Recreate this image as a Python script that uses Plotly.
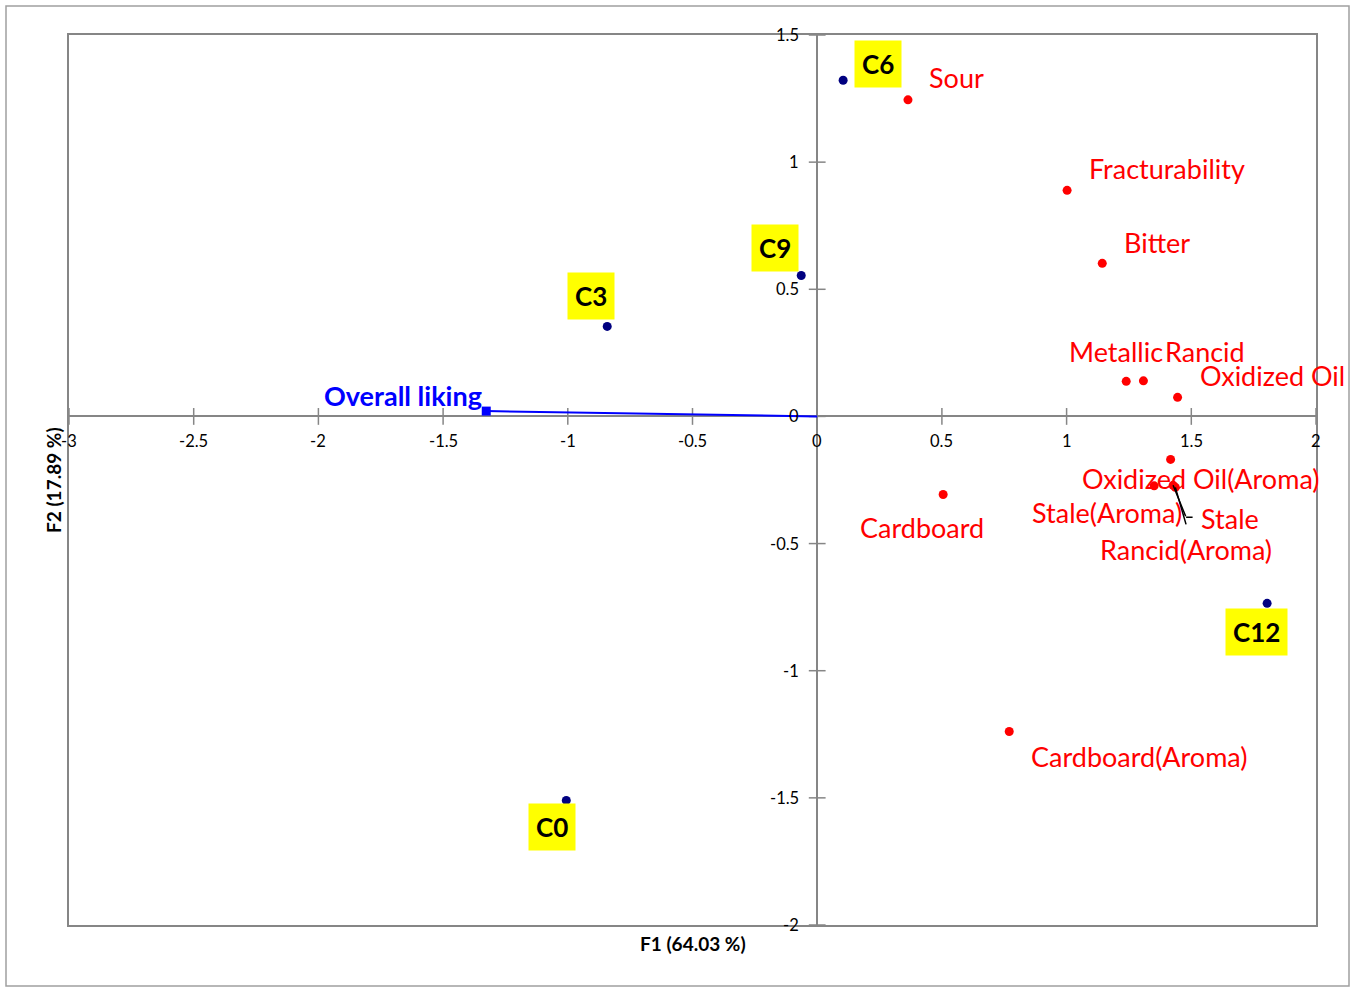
import plotly.graph_objects as go

# ---- data ----
obs_names = ["C0", "C3", "C6", "C9", "C12"]
obs_f1 = [-1.006, -0.842, 0.104, -0.064, 1.804]
obs_f2 = [-1.510, 0.354, 1.322, 0.554, -0.735]

var_names = ["Sour", "Fracturability", "Bitter", "Metallic", "Rancid", "Oxidized Oil",
             "Oxidized Oil(Aroma)", "Stale(Aroma)", "Stale", "Rancid(Aroma)",
             "Cardboard", "Cardboard(Aroma)"]
var_f1 = [0.364, 1.002, 1.143, 1.239, 1.308, 1.445, 1.417, 1.351, 1.427, 1.436, 0.505, 0.770]
var_f2 = [1.245, 0.889, 0.602, 0.138, 0.140, 0.075, -0.169, -0.273, -0.271, -0.279, -0.307, -1.239]

sup_name = "Overall liking"
sup_f1 = -1.327
sup_f2 = 0.021

x_ticks = [-3, -2.5, -2, -1.5, -1, -0.5, 0, 0.5, 1, 1.5, 2]
y_ticks = [-2, -1.5, -1, -0.5, 0, 0.5, 1, 1.5]

x_title = "F1 (64.03 %)"
y_title = "F2 (17.89 %)"

# ---- label placement (pixel offsets: xanchor, xshift, yshift) ----
var_label_pos = {
    "Sour": ("left", 19, 22),
    "Fracturability": ("left", 20, 22),
    "Bitter": ("left", 20, 21),
    "Metallic": ("right", 39, 30),
    "Rancid": ("left", 20, 29),
    "Oxidized Oil": ("left", 20, 22),
    "Oxidized Oil(Aroma)": ("center", 30, -19),
    "Stale(Aroma)": ("right", 30, -27),
    "Stale": ("left", 26, -33),
    "Rancid(Aroma)": ("center", 11, -62),
    "Cardboard": ("center", -21, -33),
    "Cardboard(Aroma)": ("left", 20, -25),
}
# leader lines: list of (xshift, yshift, ax, ay) segments in pixels relative to the point
var_leader = {
    "Stale": [(0, 0, 13, 32), (13, -32, 7, 0)],
    "Rancid(Aroma)": [(0, 0, 11, 38)],
}
obs_label_pos = {
    "C0": (-14, -27),
    "C3": (-16, 30),
    "C6": (35, 16),
    "C9": (-26, 28),
    "C12": (-11, -29),
}

FONT = "Lato"
GRAY = "#868686"
LABEL_SIZE = 27

fig = go.Figure()

# tick marks crossing the axes at the origin
fig.add_trace(go.Scatter(x=x_ticks, y=[0] * len(x_ticks), mode="markers",
                         marker=dict(symbol="line-ns", size=12, line=dict(color=GRAY, width=1.5)),
                         hoverinfo="skip"))
fig.add_trace(go.Scatter(x=[0] * len(y_ticks), y=y_ticks, mode="markers",
                         marker=dict(symbol="line-ew", size=12, line=dict(color=GRAY, width=1.5)),
                         hoverinfo="skip"))

# supplementary variable vector
fig.add_trace(go.Scatter(x=[0, sup_f1], y=[0, sup_f2], mode="lines",
                         line=dict(color="#0000FF", width=2), hoverinfo="skip"))
fig.add_trace(go.Scatter(x=[sup_f1], y=[sup_f2], mode="markers",
                         marker=dict(symbol="square", size=9, color="#0000FF"), hoverinfo="skip"))

# variables
fig.add_trace(go.Scatter(x=var_f1, y=var_f2, mode="markers",
                         marker=dict(size=9, color="#FF0000"), hoverinfo="skip"))
# observations
fig.add_trace(go.Scatter(x=obs_f1, y=obs_f2, mode="markers",
                         marker=dict(size=9, color="#000080"), hoverinfo="skip"))

ann = []
for xv in x_ticks:
    ann.append(dict(x=xv, y=0, text=str(xv), showarrow=False, yshift=-25,
                    font=dict(family=FONT, size=16.5, color="black")))
for yv in y_ticks:
    ann.append(dict(x=0, y=yv, text=str(yv), showarrow=False, xanchor="right", xshift=-16,
                    font=dict(family=FONT, size=16.5, color="black")))

for n, xv, yv in zip(var_names, var_f1, var_f2):
    xa, xs, ys = var_label_pos[n]
    ann.append(dict(x=xv, y=yv, text=n, showarrow=False, xanchor=xa, xshift=xs, yshift=ys,
                    font=dict(family=FONT, size=LABEL_SIZE, color="#FF0000")))
    for (sx, sy, axv, ayv) in var_leader.get(n, []):
        ann.append(dict(x=xv, y=yv, text=" ", showarrow=True, arrowhead=0, arrowwidth=1.5,
                        arrowcolor="black", xshift=sx, yshift=sy, ax=axv, ay=ayv,
                        borderpad=0, font=dict(size=1)))

for n, xv, yv in zip(obs_names, obs_f1, obs_f2):
    xs, ys = obs_label_pos[n]
    ann.append(dict(x=xv, y=yv, text="<b>" + n + "</b>", showarrow=False, xshift=xs, yshift=ys,
                    bgcolor="#FFFF00", borderpad=7,
                    font=dict(family=FONT, size=26, color="black")))

ann.append(dict(x=sup_f1, y=sup_f2, text="<b>" + sup_name + "</b>", showarrow=False,
                xanchor="right", xshift=-2, yshift=16,
                font=dict(family=FONT, size=LABEL_SIZE, color="#0000FF")))

ann.append(dict(x=0.5, y=(925 - 943) / 890, xref="paper", yref="paper", text="<b>" + x_title + "</b>",
                showarrow=False, yanchor="middle", font=dict(family=FONT, size=19, color="black")))
ann.append(dict(x=(53 - 69) / 1247, y=0.5, xref="paper", yref="paper", text="<b>" + y_title + "</b>",
                showarrow=False, textangle=-90, xanchor="center", yanchor="middle",
                font=dict(family=FONT, size=19, color="black")))

fig.update_layout(
    width=1352, height=988,
    margin=dict(l=69, r=36, t=35, b=63),
    paper_bgcolor="white", plot_bgcolor="white",
    showlegend=False,
    annotations=ann,
    shapes=[dict(type="rect", xref="paper", yref="paper",
                 x0=(6 - 69) / 1247, x1=(1349 - 69) / 1247,
                 y0=(925 - 986) / 890, y1=(925 - 6) / 890,
                 line=dict(color="#A0A0A0", width=1.5), layer="below")],
    xaxis=dict(range=[-3, 2], showgrid=False, zeroline=True, zerolinecolor=GRAY, zerolinewidth=2,
               showline=True, mirror=True, linecolor=GRAY, linewidth=2,
               showticklabels=False, ticks=""),
    yaxis=dict(range=[-2, 1.5], showgrid=False, zeroline=True, zerolinecolor=GRAY, zerolinewidth=2,
               showline=True, mirror=True, linecolor=GRAY, linewidth=2,
               showticklabels=False, ticks=""),
)

fig.write_html("out.html", config={"displayModeBar": False},
               post_script="document.body.style.margin='0px';")
